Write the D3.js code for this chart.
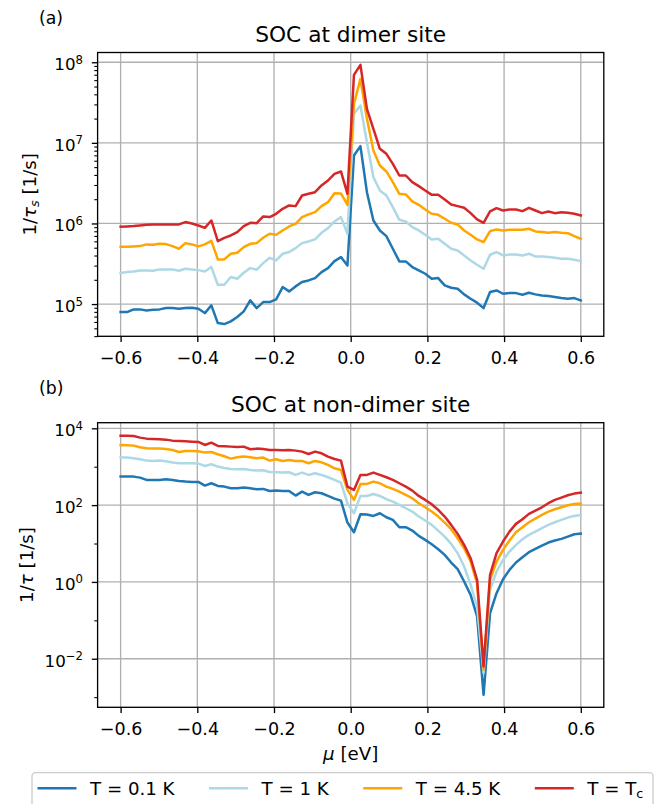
<!DOCTYPE html>
<html lang="en">
<head>
<meta charset="UTF-8">
<title>Spin relaxation rate vs chemical potential</title>
<style>
  body { margin: 0; background: #fff; }
  svg { display: block; font-family: "DejaVu Sans", sans-serif; }
</style>
</head>
<body>
<svg id="chart" width="669" height="804"></svg>
<script src="https://cdn.jsdelivr.net/npm/d3@7/dist/d3.min.js"></script>
<script>
// chemical potential grid (eV), 72 points from -0.6 to 0.6
var mu = [-0.6,-0.5831,-0.5662,-0.5493,-0.5324,-0.5155,-0.4986,-0.4817,-0.4648,-0.4479,
  -0.4310,-0.4141,-0.3972,-0.3803,-0.3634,-0.3465,-0.3296,-0.3127,-0.2958,-0.2789,
  -0.2620,-0.2451,-0.2282,-0.2113,-0.1944,-0.1775,-0.1606,-0.1437,-0.1268,-0.1099,
  -0.0930,-0.0761,-0.0592,-0.0423,-0.0254,-0.0085,0.0085,0.0254,0.0423,0.0592,
  0.0761,0.0930,0.1099,0.1268,0.1437,0.1606,0.1775,0.1944,0.2113,0.2282,
  0.2451,0.2620,0.2789,0.2958,0.3127,0.3296,0.3465,0.3634,0.3803,0.3972,
  0.4141,0.4310,0.4479,0.4648,0.4817,0.4986,0.5155,0.5324,0.5493,0.5662,0.5831,0.6];

// log10 of the rate (1/s)
// (a) SOC at dimer site
var dimer01K = [4.901,4.901,4.934,4.934,4.921,4.930,4.934,4.950,4.950,4.942,
  4.950,4.955,4.942,4.888,4.983,4.764,4.752,4.785,4.839,4.909,
  5.045,4.950,5.025,5.025,5.058,5.211,5.157,5.219,5.273,5.293,
  5.322,5.397,5.446,5.533,5.583,5.479,6.843,6.959,6.388,6.037,
  5.913,5.843,5.686,5.529,5.529,5.459,5.417,5.376,5.314,5.322,
  5.231,5.202,5.190,5.120,5.066,5.017,4.950,5.149,5.169,5.128,
  5.136,5.136,5.116,5.140,5.120,5.107,5.099,5.087,5.074,5.066,5.074,5.045];
var dimer1K = [5.384,5.397,5.405,5.417,5.417,5.413,5.430,5.430,5.430,5.413,
  5.438,5.430,5.421,5.405,5.459,5.240,5.240,5.335,5.314,5.388,
  5.446,5.426,5.508,5.574,5.541,5.624,5.645,5.694,5.756,5.777,
  5.802,5.884,5.942,6.025,6.079,5.872,7.360,7.463,7.008,6.574,
  6.409,6.347,6.202,6.045,6.025,5.955,5.913,5.860,5.802,5.810,
  5.748,5.686,5.665,5.603,5.541,5.488,5.438,5.612,5.645,5.603,
  5.616,5.616,5.603,5.624,5.591,5.591,5.583,5.574,5.562,5.562,5.550,5.533];
var dimer45K = [5.711,5.711,5.715,5.719,5.740,5.736,5.748,5.744,5.719,5.686,
  5.756,5.740,5.715,5.740,5.785,5.554,5.554,5.624,5.636,5.707,
  5.748,5.756,5.822,5.872,5.860,5.913,5.963,5.996,6.079,6.112,
  6.140,6.215,6.264,6.376,6.372,6.231,7.483,7.793,7.298,6.905,
  6.719,6.645,6.512,6.368,6.360,6.273,6.231,6.174,6.120,6.107,
  6.058,6.008,5.988,5.913,5.860,5.802,5.769,5.905,5.926,5.913,
  5.921,5.921,5.921,5.934,5.901,5.893,5.884,5.893,5.884,5.880,5.843,5.810];
var dimerTc = [5.959,5.963,5.967,5.975,5.983,5.988,5.988,5.988,5.988,5.988,
  6.017,6.000,5.975,5.946,6.037,5.781,5.822,5.851,5.893,5.967,
  6.008,6.004,6.087,6.079,6.120,6.182,6.223,6.215,6.347,6.368,
  6.388,6.471,6.533,6.616,6.645,6.368,7.843,7.967,7.421,7.174,
  6.926,6.864,6.740,6.595,6.595,6.512,6.463,6.409,6.355,6.355,
  6.298,6.236,6.215,6.194,6.128,6.050,6.008,6.149,6.190,6.161,
  6.174,6.174,6.153,6.194,6.161,6.128,6.149,6.128,6.140,6.132,6.120,6.100];

// (b) SOC at non-dimer site
var nonDimer01K = [2.742,2.742,2.742,2.716,2.656,2.656,2.656,2.673,2.656,2.630,
  2.612,2.604,2.604,2.508,2.569,2.500,2.482,2.439,2.439,2.456,
  2.439,2.413,2.422,2.369,2.378,2.369,2.369,2.248,2.352,2.265,
  2.335,2.309,2.239,2.170,2.118,1.546,1.294,1.762,1.754,1.719,
  1.788,1.684,1.615,1.424,1.424,1.337,1.199,1.094,0.982,0.852,
  0.704,0.505,0.331,0.010,-0.337,-0.900,-2.939,-0.814,-0.293,0.071,
  0.314,0.505,0.644,0.774,0.860,0.947,1.025,1.077,1.121,1.181,1.242,1.259];
var nonDimer1K = [3.237,3.237,3.219,3.193,3.159,3.150,3.159,3.141,3.107,3.089,
  3.089,3.089,3.081,3.020,3.063,3.003,2.968,2.942,2.933,2.942,
  2.916,2.899,2.907,2.864,2.855,2.846,2.855,2.786,2.846,2.786,
  2.829,2.786,2.725,2.656,2.586,2.049,1.788,2.239,2.239,2.291,
  2.239,2.153,2.092,2.005,1.918,1.832,1.702,1.598,1.485,1.337,
  1.181,0.990,0.748,0.401,-0.076,-0.640,-2.375,-0.206,0.271,0.574,
  0.791,0.964,1.112,1.225,1.311,1.398,1.485,1.554,1.615,1.676,1.719,1.745];
var nonDimer45K = [3.566,3.558,3.549,3.506,3.480,3.471,3.471,3.462,3.436,3.384,
  3.410,3.410,3.402,3.367,3.384,3.324,3.271,3.211,3.245,3.263,
  3.245,3.219,3.237,3.159,3.193,3.150,3.176,3.150,3.150,3.089,
  3.150,3.115,3.046,2.959,2.916,2.396,2.135,2.552,2.552,2.612,
  2.569,2.482,2.422,2.352,2.266,2.179,2.049,1.944,1.832,1.702,
  1.546,1.372,1.138,0.878,0.531,-0.033,-2.288,0.054,0.531,0.834,
  1.077,1.294,1.424,1.554,1.650,1.745,1.832,1.892,1.944,1.997,2.031,2.040];
var nonDimerTc = [3.809,3.809,3.801,3.757,3.731,3.722,3.714,3.705,3.679,3.670,
  3.662,3.653,3.644,3.566,3.627,3.540,3.532,3.523,3.514,3.523,
  3.454,3.471,3.462,3.436,3.436,3.428,3.436,3.419,3.393,3.332,
  3.393,3.350,3.263,3.202,3.159,2.482,2.396,2.786,2.786,2.846,
  2.786,2.725,2.656,2.569,2.482,2.378,2.239,2.135,2.023,1.875,
  1.702,1.485,1.251,0.964,0.618,0.054,-2.201,0.184,0.748,1.051,
  1.311,1.511,1.632,1.771,1.858,1.944,2.049,2.135,2.196,2.257,2.300,2.326];

var seriesLabels = ["T = 0.1 K", "T = 1 K", "T = 4.5 K", "T = T"];
var colors = ["#1f77b4", "#add8e6", "#ffa500", "#d62728"];
var xTicks = [-0.6, -0.4, -0.2, 0.0, 0.2, 0.4, 0.6];
var dimerMajor = [5, 6, 7, 8];
var nonDimerMajor = [-2, 0, 2, 4];
var nonDimerMinor = [-3, -1, 1, 3];

var svg = d3.select("#chart");
var fs = 16.7;          // y tick labels (mathtext)
var fsX = 17.5;         // x tick labels
var fsL = 18.2;         // axis labels, legend
var tickLen = 5.8, tickPad = 5.8;
var left = 97.6, right = 603.8;

var x = d3.scaleLinear().domain([-0.66, 0.66]).range([left, right]);

function supText(sel, base, exp) {
    sel.text(null);
    sel.append("tspan").text(base);
    sel.append("tspan").attr("font-size", (fs * 0.7) + "px").attr("dy", -6.5).text(exp);
}

function drawPanel(p) {
    var y = d3.scaleLog().domain([Math.pow(10, p.yExp[0]), Math.pow(10, p.yExp[1])])
        .range([p.bottom, p.top]);
    var g = svg.append("g");

    // grid
    g.append("g").selectAll("line").data(xTicks).enter().append("line")
        .attr("x1", function(d) { return x(d); }).attr("x2", function(d) { return x(d); })
        .attr("y1", p.top).attr("y2", p.bottom)
        .attr("stroke", "#b0b0b0").attr("stroke-width", 1.33);
    g.append("g").selectAll("line").data(p.major).enter().append("line")
        .attr("x1", left).attr("x2", right)
        .attr("y1", function(d) { return y(Math.pow(10, d)); })
        .attr("y2", function(d) { return y(Math.pow(10, d)); })
        .attr("stroke", "#b0b0b0").attr("stroke-width", 1.33);

    // lines
    var line = d3.line()
        .x(function(d, i) { return x(mu[i]); })
        .y(function(d) { return y(Math.pow(10, d)); });
    g.append("g").selectAll("path").data(p.series).enter().append("path")
        .attr("d", line)
        .attr("fill", "none")
        .attr("stroke", function(d, i) { return colors[i]; })
        .attr("stroke-width", 2.5)
        .attr("stroke-linejoin", "round")
        .attr("stroke-linecap", "square");

    // x axis
    var xa = g.append("g").attr("transform", "translate(0," + p.bottom + ")")
        .call(d3.axisBottom(x).tickValues(xTicks).tickSize(tickLen).tickPadding(tickPad)
            .tickFormat(d3.format(".1f")));
    xa.select(".domain").remove();
    xa.selectAll(".tick line").attr("stroke", "#000").attr("stroke-width", 1.33);
    xa.selectAll(".tick text").attr("font-size", fsX + "px").attr("font-family", "DejaVu Sans")
        .attr("fill", "#000").attr("dy", "0.93em");

    // y axis, major ticks with 10^n labels
    var ya = g.append("g").attr("transform", "translate(" + left + ",0)")
        .call(d3.axisLeft(y).tickValues(p.major.map(function(e) { return Math.pow(10, e); }))
            .tickSize(tickLen).tickPadding(tickPad + 3).tickFormat(""));
    ya.select(".domain").remove();
    ya.selectAll(".tick line").attr("stroke", "#000").attr("stroke-width", 1.33);
    ya.selectAll(".tick text")
        .attr("font-size", fs + "px").attr("font-family", "DejaVu Sans")
        .attr("fill", "#000").attr("dy", "0.45em")
        .each(function(d, i) {
            var e = p.major[i];
            supText(d3.select(this), "10", e < 0 ? "\u2212" + (-e) : String(e));
        });

    // minor ticks
    var ym = g.append("g").attr("transform", "translate(" + left + ",0)")
        .call(d3.axisLeft(y).tickValues(p.minor).tickSize(3.3).tickFormat(""));
    ym.select(".domain").remove();
    ym.selectAll(".tick line").attr("stroke", "#000").attr("stroke-width", 1.1);

    // frame
    g.append("rect").attr("x", left).attr("y", p.top)
        .attr("width", right - left).attr("height", p.bottom - p.top)
        .attr("fill", "none").attr("stroke", "#000").attr("stroke-width", 1.33);

    // title and panel letter
    g.append("text").attr("x", (left + right) / 2).attr("y", p.top - 11)
        .attr("text-anchor", "middle").attr("font-size", "21.7px").text(p.title);
    g.append("text").attr("x", 39).attr("y", p.top - 29)
        .attr("font-size", "17.3px").text(p.letter);

    // y label
    var yl = g.append("text")
        .attr("transform", "translate(" + p.ylabelX + "," + ((p.top + p.bottom) / 2) + ") rotate(-90)")
        .attr("text-anchor", "middle").attr("font-size", fsL + "px");
    yl.append("tspan").text("1/");
    yl.append("tspan").attr("font-style", "italic").text("\u03c4");
    if (p.sub) {
        yl.append("tspan").attr("font-style", "italic").attr("font-size", (fsL * 0.7) + "px")
            .attr("dy", 3).text(p.sub);
        yl.append("tspan").attr("dy", -3).text(" [1/s]");
    } else {
        yl.append("tspan").text(" [1/s]");
    }
    return y;
}

// minor ticks of the top panel: 2..9 x 10^k inside the axis range
var dimerMinor = [];
[4, 5, 6, 7].forEach(function(k) {
    d3.range(2, 10).forEach(function(m) { dimerMinor.push(m * Math.pow(10, k)); });
});
dimerMinor = dimerMinor.filter(function(v) { return v > Math.pow(10, 4.6) && v < Math.pow(10, 8.121); });

drawPanel({
    top: 52.5, bottom: 336.3, yExp: [4.60, 8.121],
    major: dimerMajor, minor: dimerMinor,
    series: [dimer01K, dimer1K, dimer45K, dimerTc],
    title: "SOC at dimer site", letter: "(a)", sub: "s", ylabelX: 36
});
drawPanel({
    top: 422.7, bottom: 707.3, yExp: [-3.265, 4.146],
    major: nonDimerMajor, minor: nonDimerMinor.map(function(e) { return Math.pow(10, e); }),
    series: [nonDimer01K, nonDimer1K, nonDimer45K, nonDimerTc],
    title: "SOC at non-dimer site", letter: "(b)", sub: null, ylabelX: 33
});

// x label
var xl = svg.append("text").attr("x", (left + right) / 2).attr("y", 759.5)
    .attr("text-anchor", "middle").attr("font-size", fsL + "px");
xl.append("tspan").attr("font-style", "italic").text("\u03bc");
xl.append("tspan").text(" [eV]");

// legend
var lg = svg.append("g");
lg.append("rect").attr("x", 32).attr("y", 772.7).attr("width", 621).attr("height", 60)
    .attr("rx", 3.5).attr("fill", "#fff").attr("fill-opacity", 0.8)
    .attr("stroke", "#cccccc").attr("stroke-width", 1.33);
var lx = 37.5, ly = 788.3;
seriesLabels.forEach(function(s, i) {
    lg.append("line").attr("x1", lx).attr("x2", lx + 39).attr("y1", ly).attr("y2", ly)
        .attr("stroke", colors[i]).attr("stroke-width", 2.5);
    var t = lg.append("text").attr("x", lx + 52.5).attr("y", ly + 6.5)
        .attr("font-size", fsL + "px").text(s);
    if (i === 3) {
        t.append("tspan").attr("font-size", (fsL * 0.7) + "px").attr("dy", 3).text("c");
    }
    lx += 52.5 + t.node().getComputedTextLength() + 34.5;
});
</script>
</body>
</html>
